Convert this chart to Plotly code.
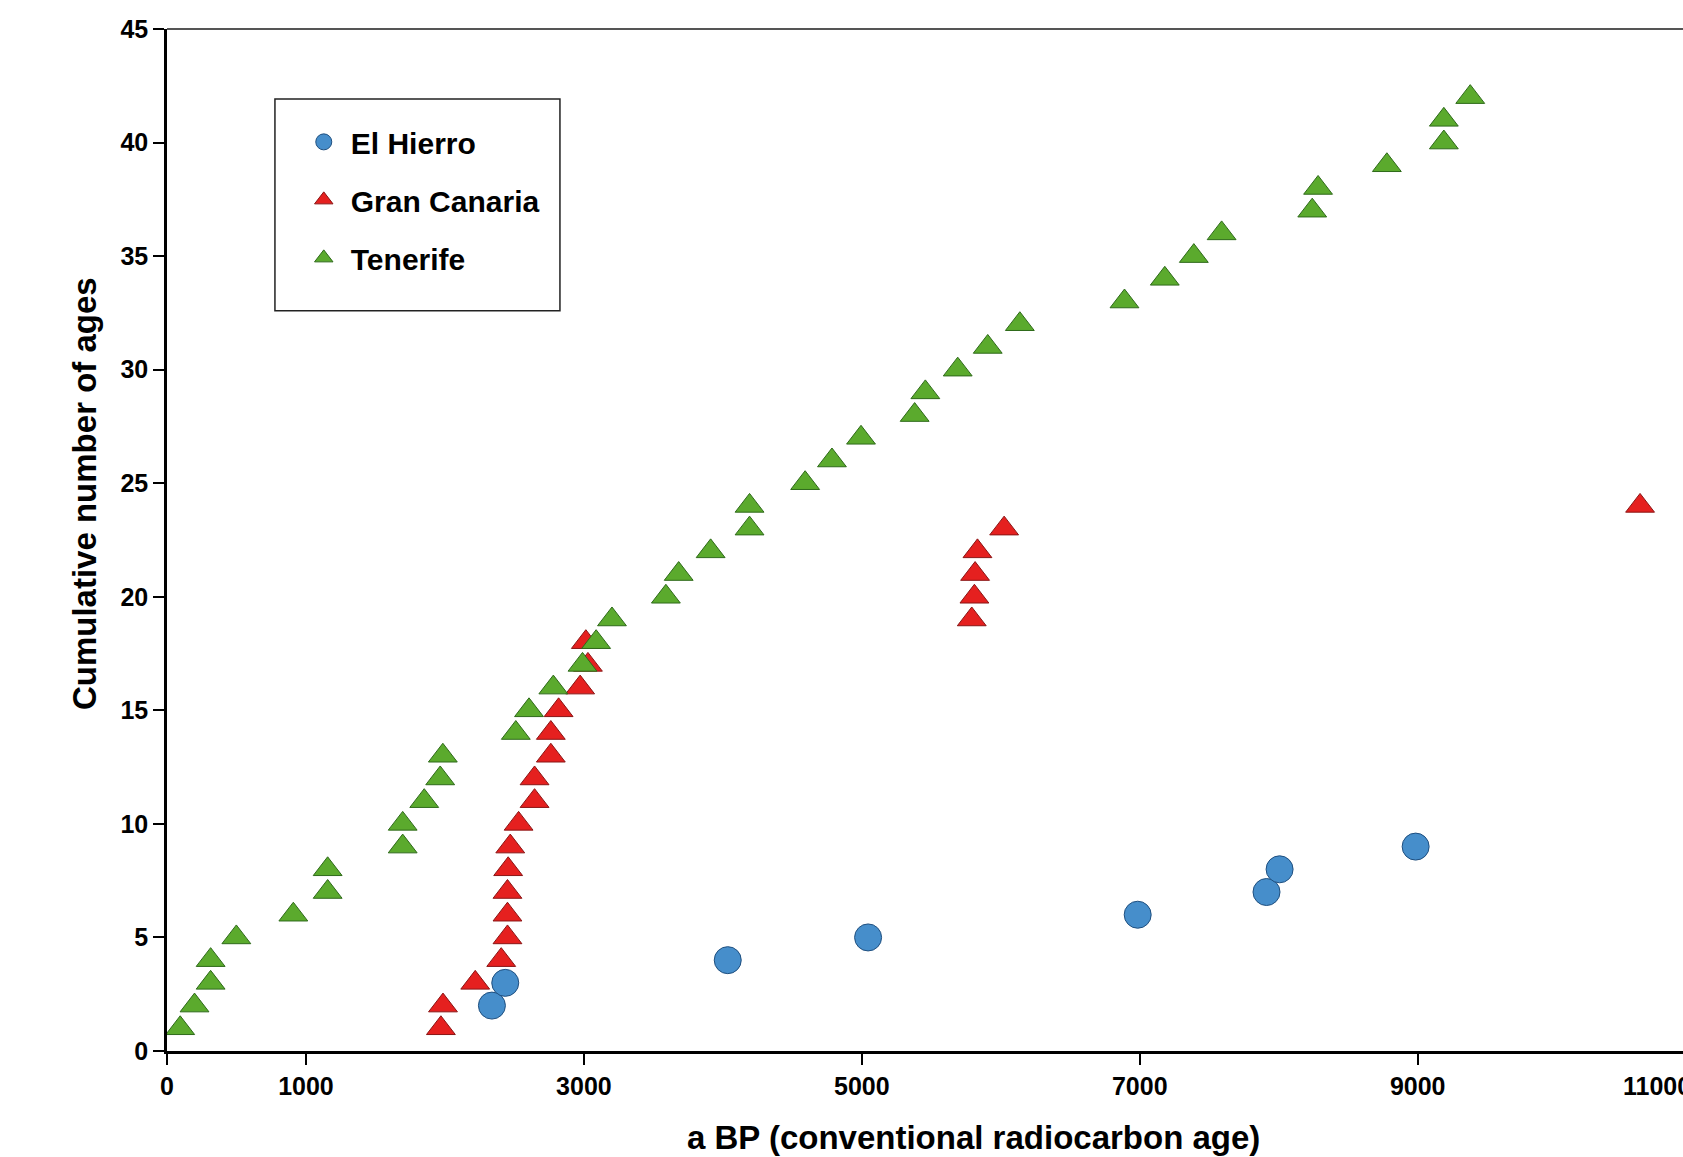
import plotly.graph_objects as go

# ---- data ----
hierro_age = [2338, 2434, 4035, 5045, 6985, 7912, 8006, 8985]
hierro_count = [2, 3, 4, 5, 6, 7, 8, 9]

canaria_age = [1971, 1986, 2218, 2405, 2450, 2450, 2450, 2455, 2470, 2530,
               2645, 2645, 2762, 2762, 2818, 2973, 3029, 3014, 5791, 5810,
               5815, 5832, 6024, 10600]
canaria_count = [1, 2, 3, 4, 5, 6, 7, 8, 9, 10, 11, 12, 13, 14, 15, 16, 17, 18,
                 19, 20, 21, 22, 23, 24]

tenerife_age = [95, 198, 314, 314, 499, 909, 1156, 1156, 1696, 1696, 1851, 1966,
                1985, 2510, 2605, 2780, 2990, 3088, 3202, 3590, 3682, 3912, 4192,
                4192, 4592, 4785, 4994, 5380, 5457, 5690, 5906, 6137, 6890, 7180,
                7389, 7589, 8241, 8283, 8778, 9188, 9188, 9378]
tenerife_count = [1, 2, 3, 4, 5, 6, 7, 8, 9, 10, 11, 12, 13, 14, 15, 16, 17, 18,
                  19, 20, 21, 22, 23, 24, 25, 26, 27, 28, 29, 30, 31, 32, 33, 34,
                  35, 36, 37, 38, 39, 40, 41, 42]

series_names = ["El Hierro", "Gran Canaria", "Tenerife"]
x_tickvals = [0, 1000, 3000, 5000, 7000, 9000]
x_ticktext = ["0", "1000", "3000", "5000", "7000", "9000"]
y_tickvals = [0, 5, 10, 15, 20, 25, 30, 35, 40, 45]
y_ticktext = ["0", "5", "10", "15", "20", "25", "30", "35", "40", "45"]
cut_tick_label = "11000"
x_title = "a BP (conventional radiocarbon age)"
y_title = "Cumulative number of ages"

FONT = "Liberation Sans, Arial, Helvetica, sans-serif"

fig = go.Figure()

# triangles first, circles drawn on top (as in the reference)
fig.add_trace(go.Scatter(
    x=canaria_age, y=canaria_count, mode="markers", name=series_names[1],
    legendgroup="b", legendrank=2,
    marker=dict(symbol="triangle-up", size=25, color="#E5201F",
                line=dict(color="#8A1515", width=1)),
    cliponaxis=False))
fig.add_trace(go.Scatter(
    x=tenerife_age, y=tenerife_count, mode="markers", name=series_names[2],
    legendgroup="c", legendrank=3,
    marker=dict(symbol="triangle-up", size=25, color="#5BAA2D",
                line=dict(color="#2E6A1A", width=1)),
    cliponaxis=False))
fig.add_trace(go.Scatter(
    x=hierro_age, y=hierro_count, mode="markers", name=series_names[0],
    legendgroup="a", legendrank=1,
    marker=dict(symbol="circle", size=27, color="#468ECB",
                line=dict(color="#1F4F7F", width=1)),
    cliponaxis=False))

axis_font = dict(family=FONT, size=25, color="black", weight="bold")
title_font = dict(family=FONT, size=33, color="black", weight="bold")

fig.update_layout(
    width=1683, height=1157,
    margin=dict(l=167, r=0, t=29, b=106, pad=0),
    paper_bgcolor="white", plot_bgcolor="white",
    showlegend=True,
    legend=dict(
        x=0.0856, y=0.915, xanchor="left", yanchor="top",
        bgcolor="rgba(0,0,0,0)", borderwidth=0,
        font=dict(family=FONT, size=30, color="black", weight="bold"),
        traceorder="grouped", tracegroupgap=16, itemwidth=44,
    ),
    xaxis=dict(
        range=[0, 10909], tickmode="array", tickvals=x_tickvals, ticktext=x_ticktext,
        showline=True, linecolor="black", linewidth=2.5,
        ticks="outside", ticklen=11, tickwidth=2, tickcolor="black",
        showgrid=False, zeroline=False, tickfont=axis_font,
        ticklabelstandoff=0,
    ),
    yaxis=dict(
        range=[0, 45], tickmode="array", tickvals=y_tickvals, ticktext=y_ticktext,
        showline=True, linecolor="black", linewidth=2.5,
        ticks="outside", ticklen=11, tickwidth=2, tickcolor="black",
        showgrid=False, zeroline=False, tickfont=axis_font,
    ),
    shapes=[
        # top frame line
        dict(type="line", xref="paper", yref="paper", x0=0, x1=1, y0=1, y1=1,
             line=dict(color="#555555", width=2)),
        # legend box
        dict(type="rect", xref="paper", yref="paper",
             x0=0.0712, x1=0.2592, y0=0.7243, y1=0.9316,
             line=dict(color="#222222", width=1.5), fillcolor="rgba(0,0,0,0)"),
    ],
    annotations=[
        dict(text=cut_tick_label, xref="paper", yref="paper", x=0.959, y=-0.0345,
             xanchor="left", yanchor="middle", showarrow=False, font=axis_font),
        dict(text=x_title, xref="paper", yref="paper", x=0.5317, y=-0.0844,
             xanchor="center", yanchor="middle", showarrow=False, font=title_font),
        dict(text=y_title, xref="paper", yref="paper", x=-0.0547, y=0.545,
             xanchor="center", yanchor="middle", showarrow=False, textangle=-90,
             font=title_font),
    ],
)

fig.write_html(
    "out.html",
    config={"displayModeBar": False},
    post_script="document.body.style.margin='0';document.body.style.padding='0';"
                "document.body.style.overflow='hidden';",
)
